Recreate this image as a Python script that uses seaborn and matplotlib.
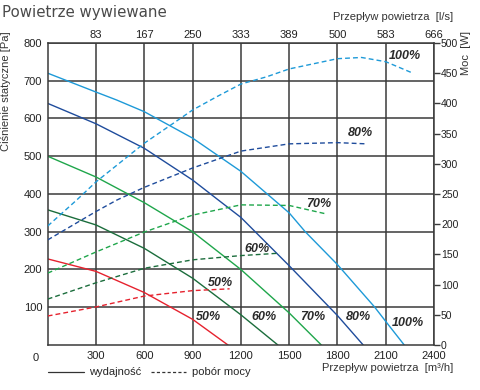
import numpy as np
import pandas as pd
import matplotlib
matplotlib.use('Agg')
import matplotlib.pyplot as plt
import seaborn as sns
from matplotlib.lines import Line2D

# data
speeds = ['100%', '80%', '70%', '60%', '50%']
colors = {'100%': '#1E9AD8', '80%': '#1F4C9C', '70%': '#1FA64B',
          '60%': '#1B6D3C', '50%': '#E6222E'}

# static pressure [Pa] vs flow [m3/h]
flow_pa = {
    '100%': [0, 300, 428, 600, 900, 1200, 1380, 1500, 1600, 1800, 2030, 2110, 2215],
    '80%': [0, 300, 600, 900, 1060, 1200, 1500, 1800, 1960],
    '70%': [0, 300, 600, 900, 1200, 1500, 1700],
    '60%': [0, 300, 600, 900, 1200, 1430],
    '50%': [0, 300, 600, 900, 1120],
}
pressure = {
    '100%': [720, 670, 649, 618, 548, 460, 394, 350, 300, 213, 101, 57, 0],
    '80%': [640, 586, 521, 437, 384, 338, 210, 78, 0],
    '70%': [500, 445, 377, 300, 200, 85, 0],
    '60%': [358, 318, 256, 177, 80, 0],
    '50%': [228, 195, 139, 68, 0],
}

# power [W] vs flow [m3/h]
flow_w = {
    '100%': [0, 180, 300, 600, 900, 1050, 1200, 1360, 1500, 1800, 1950, 2100, 2260],
    '80%': [0, 300, 430, 600, 900, 1200, 1500, 1800, 1980],
    '70%': [0, 300, 600, 900, 1200, 1500, 1730],
    '60%': [0, 300, 600, 900, 1200, 1440],
    '50%': [0, 300, 600, 900, 1130],
}
power = {
    '100%': [197, 240, 270, 334, 389, 411, 432, 444, 457, 474, 476, 469, 451],
    '80%': [174, 221, 240, 261, 293, 321, 333, 335, 333],
    '70%': [119, 154, 187, 215, 232, 231, 217],
    '60%': [76, 103, 127, 141, 148, 152],
    '50%': [48, 63, 81, 90, 93],
}

x_ticks = [300, 600, 900, 1200, 1500, 1800, 2100, 2400]
top_labels = ['83', '167', '250', '333', '389', '500', '583', '666']
y_ticks = [100, 200, 300, 400, 500, 600, 700, 800]
w_ticks = [0, 50, 100, 150, 200, 250, 300, 350, 400, 450, 500]

# label positions (flow, Pa) for the percentage tags
solid_tags = {'50%': (997, 75), '60%': (1343, 75), '70%': (1646, 75),
              '80%': (1929, 75), '100%': (2236, 57)}
dash_tags = {'50%': (1071, 165), '60%': (1298, 254), '70%': (1681, 374),
             '80%': (1940, 562), '100%': (2220, 765)}

df_pa = pd.concat([pd.DataFrame({'flow': flow_pa[s], 'val': pressure[s], 'speed': s}) for s in speeds])
df_w = pd.concat([pd.DataFrame({'flow': flow_w[s], 'val': power[s], 'speed': s}) for s in speeds])

sns.set_style('white')
plt.rcParams['font.family'] = ['Liberation Sans', 'DejaVu Sans']

fig = plt.figure(figsize=(4.8, 3.9), dpi=100)
ax = fig.add_axes([0.0994, 0.1154, 0.8048, 0.7744])
ax2 = ax.twinx()

grid_c = '#3a3a3a'
ax.set_xlim(0, 2400)
ax.set_ylim(0, 800)
ax2.set_ylim(0, 500)
ax.set_xticks(x_ticks)
ax.set_yticks(y_ticks)
ax.grid(True, color=grid_c, linewidth=1.1)
ax.set_axisbelow(True)
for sp in ax.spines.values():
    sp.set_color(grid_c)
    sp.set_linewidth(1.1)
for sp in ax2.spines.values():
    sp.set_visible(False)

sns.lineplot(data=df_pa, x='flow', y='val', hue='speed', palette=colors,
             ax=ax, legend=False, errorbar=None, linewidth=1.0, sort=True)
sns.lineplot(data=df_w, x='flow', y='val', hue='speed', palette=colors,
             ax=ax2, legend=False, errorbar=None, linewidth=1.0,
             linestyle=(0, (3.5, 2.2)), sort=True)

for s in speeds:
    x, y = solid_tags[s]
    ax.text(x, y, s, fontsize=9, fontweight='bold', fontstyle='italic',
            color='#2a2a2a', ha='center', va='center')
    x, y = dash_tags[s]
    ax.text(x, y, s, fontsize=9, fontweight='bold', fontstyle='italic',
            color='#2a2a2a', ha='center', va='center')

ax.tick_params(axis='both', length=0, labelsize=8, colors='#222222', pad=4)
ax.set_xlabel('')
ax.set_ylabel('')
ax.text(-0.022, -0.025, '0', transform=ax.transAxes, fontsize=8, color='#222222',
        ha='right', va='top')

ax2.set_yticks(w_ticks)
ax2.tick_params(axis='y', length=4, width=1, color=grid_c, labelsize=7.5,
                colors='#222222', pad=1)
ax2.set_ylabel('')

# top axis in l/s
axt = ax.twiny()
axt.set_xlim(0, 2400)
axt.set_xticks(x_ticks)
axt.set_xticklabels(top_labels)
axt.tick_params(axis='x', length=0, labelsize=8, colors='#222222', pad=2)
for sp in axt.spines.values():
    sp.set_visible(False)

fig.text(0.004, 0.968, 'Powietrze wywiewane', fontsize=10.8, color='#4a4a4a',
         ha='left', va='center', family='DejaVu Sans')
fig.text(0.944, 0.956, 'Przepływ powietrza  [l/s]', fontsize=8, color='#333333',
         ha='right', va='center')
fig.text(0.944, 0.056, 'Przepływ powietrza  [m³/h]', fontsize=8, color='#333333',
         ha='right', va='center')
fig.text(0.012, 0.92, 'Ciśnienie statyczne [Pa]', fontsize=8, color='#333333',
         rotation=90, ha='center', va='top')
fig.text(0.97, 0.92, 'Moc  [W]', fontsize=8, color='#333333',
         rotation=90, ha='center', va='top')

# legend
leg = [Line2D([0], [0], color='#333333', lw=0.9),
       Line2D([0], [0], color='#333333', lw=0.9, linestyle=(0, (2.5, 1.8)))]
fig.legend(leg, ['wydajność', 'pobór mocy'], loc='center left',
           bbox_to_anchor=(0.08, 0.045), ncol=2, frameon=False, fontsize=8,
           handlelength=3.2, columnspacing=0.8, handletextpad=0.5)

fig.savefig('out.png', dpi=100)
